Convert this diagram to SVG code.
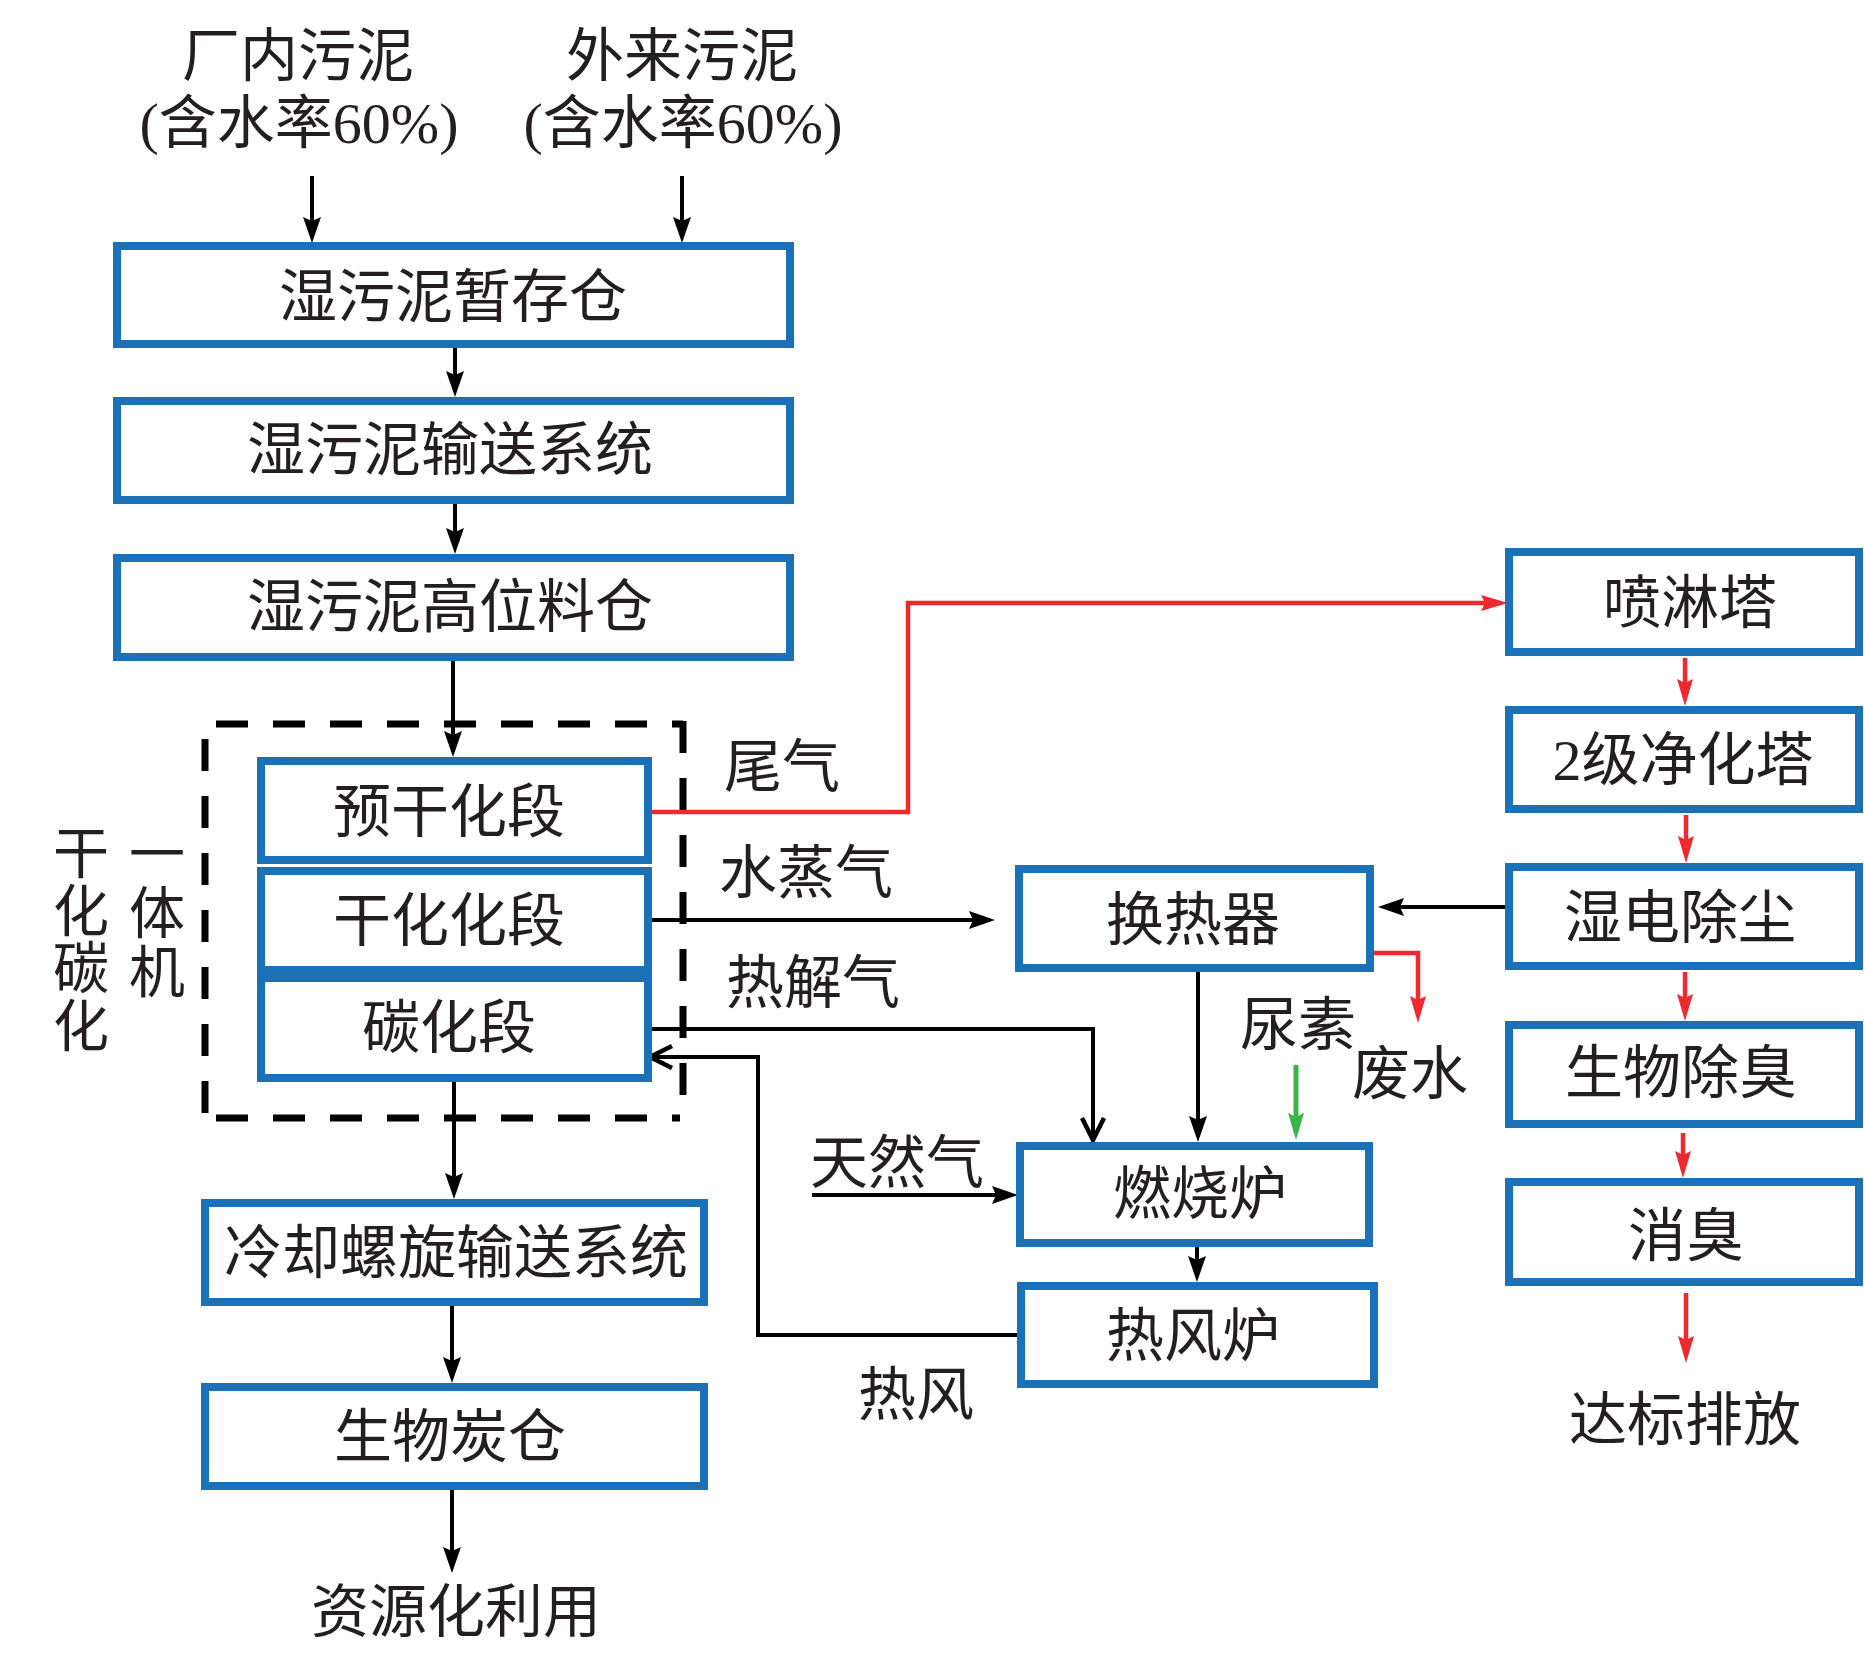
<svg xmlns="http://www.w3.org/2000/svg" width="1864" height="1654" viewBox="0 0 1864 1654">
  <defs>
    <style>
      .box { fill: #ffffff; stroke: #1a71b8; stroke-width: 8; }
      .t { font-family: "Liberation Serif", "Noto Sans CJK SC", serif; font-size: 58px; fill: #231f20; text-anchor: middle; }
      .tv { font-family: "Noto Sans CJK SC", sans-serif; font-size: 56px; fill: #231f20; text-anchor: start; writing-mode: vertical-rl; }
      .dash { fill: none; stroke: #000000; stroke-width: 7; stroke-dasharray: 32 25; }
      .blk { fill: none; stroke: #000000; stroke-width: 4; }
      .red { fill: none; stroke: #ee2a2f; stroke-width: 4.5; }
      .grn { fill: none; stroke: #3ab54a; stroke-width: 5; }
    </style>
    <marker id="ab" markerUnits="userSpaceOnUse" viewBox="0 0 26 18" refX="18" refY="9" markerWidth="26" markerHeight="18" orient="auto">
      <path d="M0,0 L26,9 L0,18 L4,9 z" fill="#000000"/>
    </marker>
    <marker id="ar" markerUnits="userSpaceOnUse" viewBox="0 0 27 16" refX="19" refY="8" markerWidth="27" markerHeight="16" orient="auto">
      <path d="M0,0 L27,8 L0,16 L4,8 z" fill="#ee2a2f"/>
    </marker>
    <marker id="ag" markerUnits="userSpaceOnUse" viewBox="0 0 27 16" refX="19" refY="8" markerWidth="27" markerHeight="16" orient="auto">
      <path d="M0,0 L27,8 L0,16 L4,8 z" fill="#3ab54a"/>
    </marker>
    <marker id="ao" markerUnits="userSpaceOnUse" viewBox="-2 -2 26 26" refX="22" refY="11" markerWidth="26" markerHeight="26" orient="auto" overflow="visible">
      <path d="M0,0 L22,11 L0,22" fill="none" stroke="#000000" stroke-width="4.5"/>
    </marker>
  </defs>

  <rect x="0" y="0" width="1864" height="1654" fill="#ffffff"/>

  <!-- dashed enclosure of the integrated machine -->
  <g id="integrated-machine-frame">
    <line class="dash" x1="216" y1="724" x2="683" y2="724"/>
    <line class="dash" x1="205" y1="739" x2="205" y2="1118"/>
    <line class="dash" x1="683" y1="721" x2="683" y2="1104"/>
    <line class="dash" x1="216" y1="1118" x2="680" y2="1118"/>
  </g>

  <!-- connectors -->
  <g id="connectors">
    <path class="blk" d="M312,176 V235" marker-end="url(#ab)"/>
    <path class="blk" d="M682,176 V235" marker-end="url(#ab)"/>
    <path class="blk" d="M455,348 V389" marker-end="url(#ab)"/>
    <path class="blk" d="M455,504 V546" marker-end="url(#ab)"/>
    <path class="blk" d="M453,661 V749" marker-end="url(#ab)"/>
    <path class="blk" d="M454,1082 V1191" marker-end="url(#ab)"/>
    <path class="blk" d="M452,1306 V1375" marker-end="url(#ab)"/>
    <path class="blk" d="M452,1490 V1565" marker-end="url(#ab)"/>
    <path class="blk" d="M652,920 H987" marker-end="url(#ab)"/>
    <path class="blk" d="M652,1029 H1093 V1140" marker-end="url(#ao)"/>
    <path class="blk" d="M1017,1335 H758 V1057 H650" marker-end="url(#ao)"/>
    <path class="blk" d="M1505,907 H1386" marker-end="url(#ab)"/>
    <path class="blk" d="M1198,972 V1134" marker-end="url(#ab)"/>
    <path class="blk" d="M812,1195 H1010" marker-end="url(#ab)"/>
    <path class="blk" d="M1197,1247 V1274" marker-end="url(#ab)"/>
    <path class="red" d="M652,812 H908 V603 H1500" marker-end="url(#ar)"/>
    <path class="red" d="M1685,658 V698" marker-end="url(#ar)"/>
    <path class="red" d="M1686,815 V855" marker-end="url(#ar)"/>
    <path class="red" d="M1685,972 V1013" marker-end="url(#ar)"/>
    <path class="red" d="M1683,1133 V1170" marker-end="url(#ar)"/>
    <path class="red" d="M1686,1293 V1355" marker-end="url(#ar)"/>
    <path class="red" d="M1374,953 H1418 V1015" marker-end="url(#ar)"/>
    <path class="grn" d="M1296,1065 V1132" marker-end="url(#ag)"/>
  </g>

  <!-- free labels -->
  <g id="labels">
    <text class="t" x="298" y="76">厂内污泥</text>
    <text class="t" x="299" y="143">(含水率60%)</text>
    <text class="t" x="682" y="76">外来污泥</text>
    <text class="t" x="683" y="143">(含水率60%)</text>
    <text class="tv" x="81" y="824" style="letter-spacing:1.5px">干化碳化</text>
    <text class="tv" x="157" y="825" style="letter-spacing:3px">一体机</text>
    <text class="t" x="782" y="787">尾气</text>
    <text class="t" x="806" y="893">水蒸气</text>
    <text class="t" x="813" y="1003">热解气</text>
    <text class="t" x="897" y="1183">天然气</text>
    <text class="t" x="916" y="1415">热风</text>
    <text class="t" x="1298" y="1045">尿素</text>
    <text class="t" x="1410" y="1094">废水</text>
    <text class="t" x="456" y="1632">资源化利用</text>
    <text class="t" x="1685" y="1440">达标排放</text>
  </g>

  <!-- nodes -->
  <g id="wet-sludge-storage"><rect class="box" x="117" y="246" width="673" height="98"/><text class="t" x="453" y="317">湿污泥暂存仓</text></g>
  <g id="wet-sludge-conveyor"><rect class="box" x="117" y="401" width="673" height="99"/><text class="t" x="450" y="470">湿污泥输送系统</text></g>
  <g id="wet-sludge-hopper"><rect class="box" x="117" y="558" width="673" height="99"/><text class="t" x="450" y="627">湿污泥高位料仓</text></g>
  <g id="pre-drying"><rect class="box" x="261" y="761" width="387" height="99"/><text class="t" x="449" y="832">预干化段</text></g>
  <g id="drying"><rect class="box" x="261" y="871" width="387" height="99"/><text class="t" x="449" y="941">干化化段</text></g>
  <g id="carbonization"><rect class="box" x="261" y="978" width="387" height="100"/><text class="t" x="449" y="1048">碳化段</text></g>
  <g id="cooling-screw"><rect class="box" x="205" y="1203" width="499" height="99"/><text class="t" x="456" y="1273">冷却螺旋输送系统</text></g>
  <g id="biochar-bin"><rect class="box" x="205" y="1387" width="499" height="99"/><text class="t" x="450" y="1457">生物炭仓</text></g>
  <g id="heat-exchanger"><rect class="box" x="1019" y="869" width="351" height="99"/><text class="t" x="1193" y="940">换热器</text></g>
  <g id="combustion-furnace"><rect class="box" x="1020" y="1146" width="349" height="97"/><text class="t" x="1200" y="1214">燃烧炉</text></g>
  <g id="hot-air-furnace"><rect class="box" x="1021" y="1286" width="353" height="98"/><text class="t" x="1193" y="1356">热风炉</text></g>
  <g id="spray-tower"><rect class="box" x="1509" y="552" width="350" height="100"/><text class="t" x="1690" y="623">喷淋塔</text></g>
  <g id="purification-tower"><rect class="box" x="1509" y="710" width="350" height="99"/><text class="t" x="1683" y="780">2级净化塔</text></g>
  <g id="wet-esp"><rect class="box" x="1509" y="867" width="350" height="99"/><text class="t" x="1680" y="938">湿电除尘</text></g>
  <g id="bio-deodorization"><rect class="box" x="1509" y="1025" width="350" height="99"/><text class="t" x="1681" y="1093">生物除臭</text></g>
  <g id="deodorization"><rect class="box" x="1509" y="1182" width="350" height="100"/><text class="t" x="1686" y="1256">消臭</text></g>
</svg>
